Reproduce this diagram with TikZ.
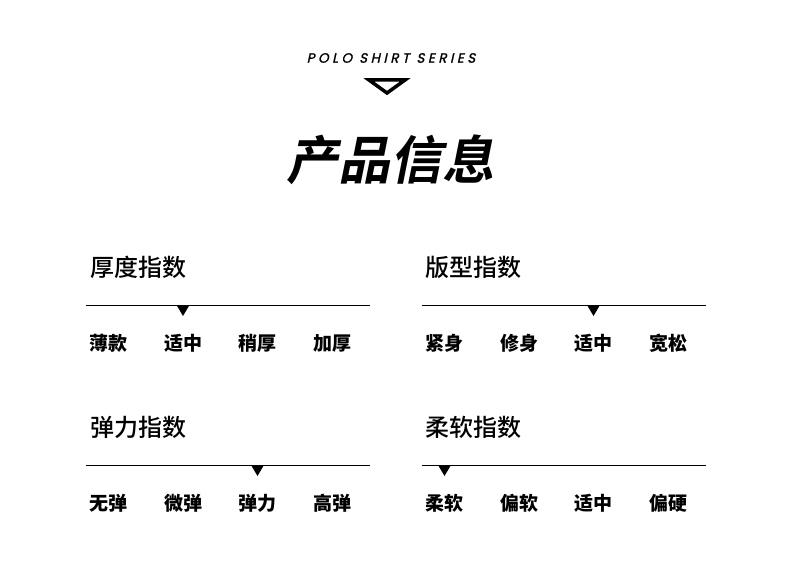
\documentclass[tikz,border=0pt]{standalone}
\usepackage{fontspec}
\newfontfamily\cjk{Noto Sans CJK SC}
\newfontfamily\cjkmed{Noto Sans CJK SC Medium}
\newfontfamily\cjktitle[FakeSlant=0.2]{Noto Sans CJK SC Bold}
\newfontfamily\polofont[LetterSpace=26,FakeSlant=0.22,FakeBold=1.2]{Poppins}
\begin{document}
\begin{tikzpicture}[x=1pt,y=-1pt,
  heading/.style={anchor=west,inner sep=0pt,font=\cjkmed\fontsize{24}{24}\selectfont},
  option/.style={inner sep=0pt,font=\cjk\fontsize{19}{19}\selectfont\bfseries},
  rule/.style={line width=1pt},
  marker/.style={fill=black,draw=none}]
\useasboundingbox[fill=white] (0,0) rectangle (790,578);
\node[inner sep=0pt,font=\polofont\fontsize{13.5}{13.5}\selectfont] (series) at (391,58) {POLO SHIRT SERIES};
\draw[line width=3.5pt,line join=miter] (369,80) -- (405,80) -- (387,93) -- cycle;
\node[inner sep=0pt,font=\cjktitle\fontsize{52}{52}\selectfont] (title) at (390,160) {产品信息};
% sections
\foreach \hx/\hy/\ly/\lx/\t/\m/\a/\b/\c/\d/\name in {
  90/267/305/86/厚度指数/1/薄款/适中/稍厚/加厚/a,
  425/267/305/422/版型指数/2/紧身/修身/适中/宽松/b,
  90/427/465/86/弹力指数/2/无弹/微弹/弹力/高弹/c,
  425/427/465/422/柔软指数/0/柔软/偏软/适中/偏硬/d}{
  \node[heading] (h\name) at (\hx,\hy) {\t};
  \coordinate (ls\name) at (\lx,\ly);
  \coordinate (le\name) at (\lx+284,\ly);
  \draw[rule] (ls\name) -- (le\name);
  \foreach \o [count=\i from 0] in {\a,\b,\c,\d}{
    \node[option] (o\name\i) at (\lx+22.5+74.5*\i,\ly+38.5) {\o};
  }
  \fill[marker] (\lx+22.5+74.5*\m-6.5,\ly) -- (\lx+22.5+74.5*\m+6.5,\ly) -- (\lx+22.5+74.5*\m,\ly+11) -- cycle;
}
\end{tikzpicture}
\end{document}
